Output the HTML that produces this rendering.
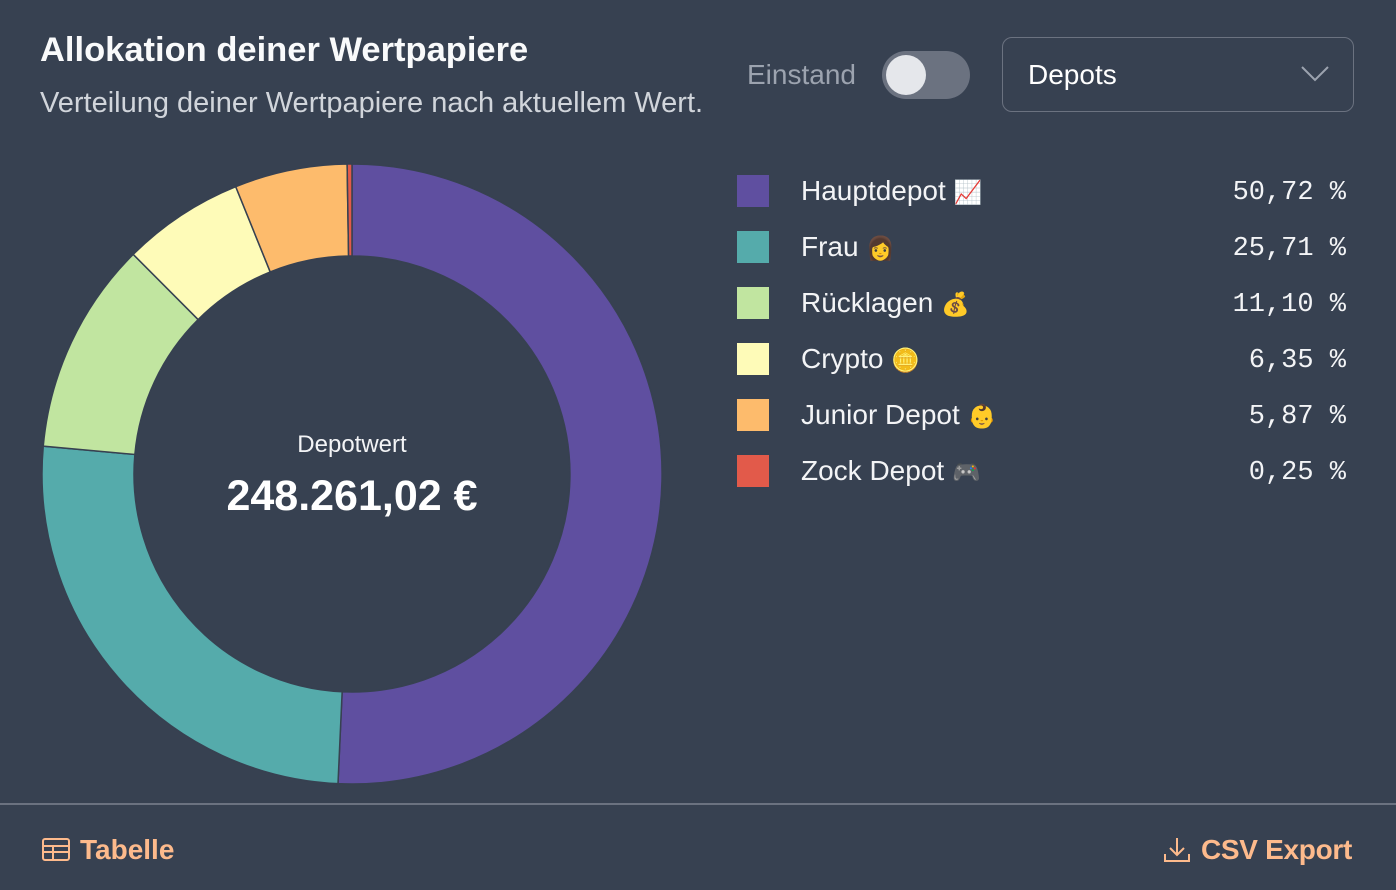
<!DOCTYPE html>
<html><head><meta charset="utf-8"><style>
body{margin:0;width:1396px;height:890px;background:#374151;font-family:"Liberation Sans",sans-serif;position:relative;overflow:hidden;color:#fff}
.a{position:absolute;white-space:nowrap}
.sw{position:absolute;left:737px;width:32px;height:32px}
.lab{position:absolute;left:801px;font-size:28px;color:#f3f4f6}
.lab span{font-size:23px}
.pct{position:absolute;right:50px;font-size:27px;font-family:"Liberation Mono",monospace;color:#f3f4f6}
</style></head><body>
<div class="a" style="left:40px;top:31px;font-size:34.5px;font-weight:bold;color:#f9fafb">Allokation deiner Wertpapiere</div>
<div class="a" style="left:40px;top:87px;font-size:29px;color:#d1d5db">Verteilung deiner Wertpapiere nach aktuellem Wert.</div>
<div class="a" style="left:747px;top:59px;font-size:28px;color:#9ca3af">Einstand</div>
<div class="a" style="left:882px;top:51px;width:88px;height:48px;border-radius:24px;background:#6b7280"></div>
<div class="a" style="left:886px;top:55px;width:40px;height:40px;border-radius:20px;background:#e5e7eb"></div>
<div class="a" style="left:1002px;top:37px;width:352px;height:75px;border:1.5px solid #6b7280;border-radius:10px;box-sizing:border-box"></div>
<div class="a" style="left:1028px;top:59px;font-size:28px;color:#fff">Depots</div>
<svg class="a" style="left:1300px;top:64px" width="30" height="20"><polyline points="2,3 15,16 28,3" fill="none" stroke="#9ca3af" stroke-width="2"/></svg>
<svg class="a" style="left:0;top:0" width="700" height="800" id="d"></svg>
<div class="a" style="left:252px;top:431px;width:200px;text-align:center;font-size:24px;color:#f3f4f6">Depotwert</div>
<div class="a" style="left:152px;top:472px;width:400px;text-align:center;font-size:43px;font-weight:bold;color:#fff">248.261,02 €</div>
<div class="sw" style="top:175px;background:#5f4fa0"></div><div class="lab" style="top:175px">Hauptdepot <span>📈</span></div><div class="pct" style="top:178px">50,72 %</div>
<div class="sw" style="top:231px;background:#55abab"></div><div class="lab" style="top:231px">Frau <span>👩</span></div><div class="pct" style="top:234px">25,71 %</div>
<div class="sw" style="top:287px;background:#c1e5a0"></div><div class="lab" style="top:287px">Rücklagen <span>💰</span></div><div class="pct" style="top:290px">11,10 %</div>
<div class="sw" style="top:343px;background:#fefbb8"></div><div class="lab" style="top:343px">Crypto <span>🪙</span></div><div class="pct" style="top:346px">6,35 %</div>
<div class="sw" style="top:399px;background:#fdbb6c"></div><div class="lab" style="top:399px">Junior Depot <span>👶</span></div><div class="pct" style="top:402px">5,87 %</div>
<div class="sw" style="top:455px;background:#e25a4a"></div><div class="lab" style="top:455px">Zock Depot <span>🎮</span></div><div class="pct" style="top:458px">0,25 %</div>
<div class="a" style="left:0;top:803px;width:1396px;height:2px;background:#6b7280"></div>
<svg class="a" style="left:42px;top:838px" width="28" height="24"><rect x="1" y="1" width="26" height="21" rx="2" fill="none" stroke="#fdba8c" stroke-width="2"/><path d="M1 8H27M1 14H27M11 8V22" stroke="#fdba8c" stroke-width="2"/></svg>
<div class="a" style="left:80px;top:834px;font-size:28px;font-weight:bold;color:#fdba8c">Tabelle</div>
<svg class="a" style="left:1163px;top:836px" width="28" height="28"><path d="M14 2V19M7 12L14 19L21 12M2 18V25H26V18" fill="none" stroke="#fdba8c" stroke-width="2"/></svg>
<div class="a" style="left:1201px;top:834px;font-size:28px;font-weight:bold;color:#fdba8c;letter-spacing:-0.3px">CSV Export</div>
<script>
var v=[50.72,25.71,11.10,6.35,5.87,0.25],c=["#5f4fa0","#55abab","#c1e5a0","#fefbb8","#fdbb6c","#e25a4a"];
var cx=352,cy=474,R=310,r=218,a=0,s="";
function p(rad,an){return (cx+rad*Math.sin(an)).toFixed(2)+" "+(cy-rad*Math.cos(an)).toFixed(2)}
for(var i=0;i<6;i++){var b=a+v[i]/100*2*Math.PI,l=(b-a)>Math.PI?1:0;
s+='<path d="M'+p(R,a)+' A'+R+' '+R+' 0 '+l+' 1 '+p(R,b)+' L'+p(r,b)+' A'+r+' '+r+' 0 '+l+' 0 '+p(r,a)+'Z" fill="'+c[i]+'" stroke="#374151" stroke-width="1.5"/>';a=b;}
document.getElementById("d").innerHTML=s;
</script>
</body></html>
